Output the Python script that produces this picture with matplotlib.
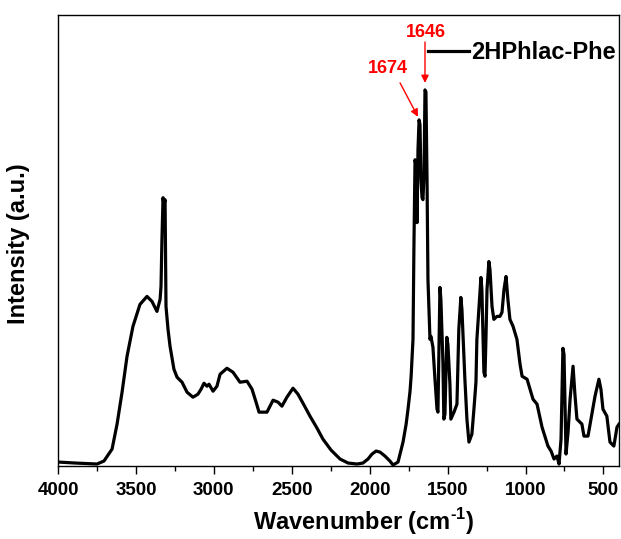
import matplotlib
matplotlib.use("Agg")
import matplotlib.pyplot as plt
from matplotlib.ticker import MultipleLocator

plt.rcParams["font.family"] = ["Liberation Sans", "DejaVu Sans"]
plt.rcParams["font.weight"] = "bold"
plt.rcParams["mathtext.fontset"] = "custom"
plt.rcParams["mathtext.rm"] = "Liberation Sans:bold"
plt.rcParams["mathtext.bf"] = "Liberation Sans:bold"

# FTIR spectrum (wavenumber in cm-1, intensity in a.u.)
wavenumber = [4000, 3891, 3750, 3705, 3653, 3621, 3589, 3557, 3519, 3474,
              3429, 3397, 3365, 3345, 3339, 3333, 3326, 3320, 3313, 3307,
              3294, 3281, 3256, 3236, 3204, 3172, 3134, 3102, 3082, 3063,
              3044, 3031, 3005, 2980, 2960, 2916, 2877, 2832, 2787, 2755,
              2729, 2710, 2659, 2620, 2588, 2563, 2531, 2492, 2460, 2421,
              2383, 2338, 2300, 2248, 2190, 2139, 2081, 2043, 2011, 1985,
              1959, 1934, 1902, 1870, 1850, 1818, 1786, 1766, 1754, 1741,
              1734, 1722, 1716, 1709, 1703, 1696, 1690, 1683, 1677, 1671,
              1664, 1658, 1651, 1645, 1639, 1632, 1626, 1613, 1607, 1594,
              1581, 1568, 1562, 1549, 1543, 1530, 1524, 1517, 1505, 1498,
              1485, 1479, 1459, 1440, 1428, 1415, 1408, 1389, 1376, 1363,
              1344, 1331, 1318, 1312, 1305, 1286, 1280, 1267, 1260, 1254,
              1247, 1235, 1228, 1215, 1203, 1183, 1164, 1151, 1138, 1125,
              1113, 1100, 1080, 1055, 1035, 1022, 990, 971, 952, 926,
              894, 856, 836, 817, 798, 785, 772, 760, 753, 740,
              727, 714, 695, 683, 670, 651, 638, 625, 599, 580,
              554, 529, 516, 503, 478, 458, 433, 413, 400]
intensity = [3, 2, 1, 4, 16, 41, 73, 109, 139, 161,
             169, 164, 154, 166, 179, 226, 268, 261, 266, 159,
             136, 119, 96, 88, 83, 73, 68, 71, 76, 82,
             79, 81, 74, 79, 91, 97, 93, 83, 84, 76,
             63, 53, 53, 65, 63, 59, 68, 77, 71, 60,
             49, 37, 26, 15, 6, 2, 1, 2, 6, 11,
             14, 13, 9, 4, 0, 3, 23, 41, 56, 74,
             89, 126, 219, 306, 301, 243, 316, 346, 341, 286,
             268, 266, 293, 376, 374, 286, 186, 126, 129, 118,
             86, 56, 53, 178, 166, 103, 46, 51, 128, 121,
             81, 46, 53, 61, 136, 168, 156, 86, 46, 23,
             31, 56, 83, 126, 143, 188, 176, 93, 89, 126,
             176, 204, 196, 159, 146, 149, 149, 153, 176, 189,
             166, 146, 139, 126, 101, 89, 86, 76, 66, 61,
             38, 19, 14, 6, 9, 1, 26, 117, 111, 11,
             33, 66, 99, 71, 46, 43, 41, 29, 29, 46,
             69, 86, 76, 56, 49, 23, 19, 38, 41]

sample = "2HPhlac-Phe"
peak_labels = ["1646", "1674"]

fig = plt.figure(figsize=(6.21, 5.39), dpi=100)
ax = fig.add_axes([0.0934, 0.1354, 0.9034, 0.8366])

ax.plot(wavenumber, intensity, color="black", lw=2.3, label=sample)

ax.set_xlim(4000, 400)
ax.set_ylim(-1, 451)
ax.xaxis.set_major_locator(MultipleLocator(500))
ax.xaxis.set_minor_locator(MultipleLocator(250))
ax.set_yticks([])
ax.tick_params(axis="x", which="major", direction="out", length=6, width=1,
               labelsize=13.5, pad=5.5)
ax.tick_params(axis="x", which="minor", direction="out", length=3.5, width=1)
for s in ax.spines.values():
    s.set_linewidth(1)

ax.set_xlabel(r"Wavenumber (cm$^{\text{-1}}$)", fontsize=17, fontweight="bold")
ax.xaxis.set_label_coords(0.545, -0.089)
ax.set_ylabel("Intensity (a.u.)", fontsize=17, fontweight="bold")
ax.yaxis.set_label_coords(-0.050, 0.492)

arrow = dict(arrowstyle="-|>", color="red", lw=1, mutation_scale=11,
             shrinkA=0, shrinkB=0)
ax.annotate("", xy=(1645, 383), xytext=(1645, 424), arrowprops=arrow)
ax.text(1639, 434, peak_labels[0], color="red", fontsize=13, fontweight="bold",
        ha="center", va="center")
ax.annotate("", xy=(1690, 349), xytext=(1805, 383), arrowprops=arrow)
ax.text(1882, 397, peak_labels[1], color="red", fontsize=13, fontweight="bold",
        ha="center", va="center")

ax.legend(loc="center right", bbox_to_anchor=(0.995, 0.916), frameon=False,
          fontsize=17, handlelength=1.75, handletextpad=0.1, borderpad=0,
          borderaxespad=0)

fig.savefig("out.png", dpi=100)
